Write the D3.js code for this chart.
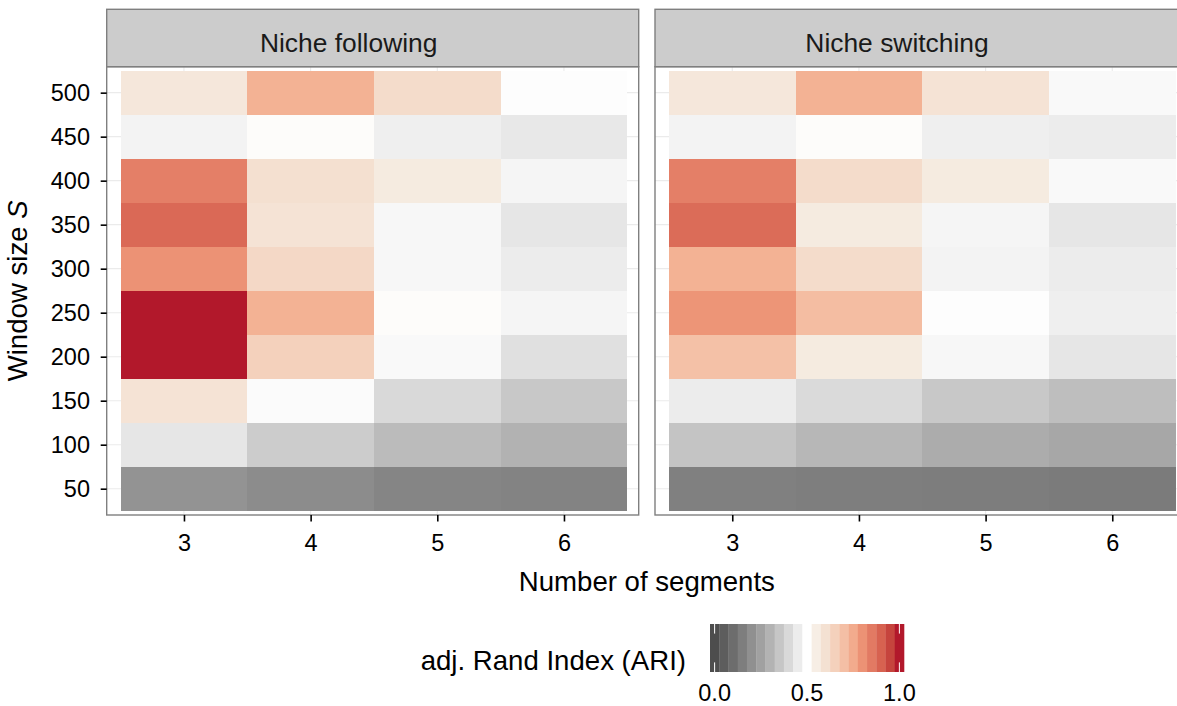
<!DOCTYPE html>
<html>
<head>
<meta charset="utf-8">
<script src="https://cdn.jsdelivr.net/npm/d3@7"></script>
<style>
    body { margin: 0; background: #fff; }
    svg { display: block; font-family: "Liberation Sans", Arial, sans-serif; }
</style>
</head>
<body>
<svg id="drawing_region"></svg>
<script>
// ---- data ----
const segments = [3, 4, 5, 6];
const windowSizes = [50, 100, 150, 200, 250, 300, 350, 400, 450, 500];
const facets = ['Niche following', 'Niche switching'];

// one row per window size (50 ... 500), one column per number of segments (3 ... 6)
const ariFollowing = [
    [0.21, 0.19, 0.17, 0.165],
    [0.435, 0.366, 0.32, 0.295],
    [0.59, 0.49, 0.40, 0.355],
    [1.0, 0.65, 0.485, 0.42],
    [1.0, 0.735, 0.51, 0.475],
    [0.80, 0.63, 0.48, 0.45],
    [0.885, 0.59, 0.48, 0.435],
    [0.84, 0.605, 0.56, 0.475],
    [0.47, 0.51, 0.46, 0.44],
    [0.575, 0.735, 0.62, 0.495]
];
const ariSwitching = [
    [0.155, 0.15, 0.145, 0.14],
    [0.345, 0.31, 0.28, 0.265],
    [0.45, 0.405, 0.355, 0.33],
    [0.695, 0.56, 0.48, 0.435],
    [0.795, 0.705, 0.495, 0.46],
    [0.735, 0.62, 0.47, 0.45],
    [0.88, 0.56, 0.475, 0.435],
    [0.84, 0.62, 0.56, 0.485],
    [0.47, 0.51, 0.46, 0.45],
    [0.575, 0.735, 0.59, 0.485]
];
const legendTicks = [0, 0.5, 1];
const legendBins = 21;

// ---- layout ----
const config = {
    width: 1177,
    height: 706,
    panelWidth: 532,
    panelHeight: 448.3,
    panelLefts: [106.7, 655],
    panelTop: 66.7,
    stripHeight: 57.4,
    border: '#7f7f7f',
    tickFont: 23.5,
    titleFont: 27.6
};

const svg = d3.select('#drawing_region')
    .attr('width', config.width)
    .attr('height', config.height);

const xscale = d3.scaleLinear()
    .domain([2.39, 6.59])
    .range([0, config.panelWidth]);

const yscale = d3.scaleLinear()
    .domain([20.1, 529.5])
    .range([config.panelHeight, 0]);

const color = d3.scaleLinear()
    .domain([0, 0.5, 0.56, 0.62, 0.68, 0.74, 0.80, 0.86, 0.92, 1.0])
    .range(['#4d4d4d', '#ffffff', '#f5ebe0', '#f4dccb', '#f4c6ae', '#f3b092',
            '#ec9275', '#e07560', '#d25848', '#b2182b'])
    .interpolate(d3.interpolateLab)
    .clamp(true);

const tables = [ariFollowing, ariSwitching];

facets.forEach((name, p) => {
    const left = config.panelLefts[p];
    const g = svg.append('g')
        .attr('transform', `translate(${left}, ${config.panelTop})`);

    // grid
    g.selectAll('.vgrid').data(segments).join('line')
        .attr('x1', d => xscale(d)).attr('x2', d => xscale(d))
        .attr('y1', 0).attr('y2', config.panelHeight)
        .attr('stroke', '#ebebeb').attr('stroke-width', 1.1);
    g.selectAll('.hgrid').data(windowSizes).join('line')
        .attr('y1', d => yscale(d)).attr('y2', d => yscale(d))
        .attr('x1', 0).attr('x2', config.panelWidth)
        .attr('stroke', '#ebebeb').attr('stroke-width', 1.1);

    // tiles
    const cells = [];
    windowSizes.forEach((w, i) => {
        segments.forEach((s, j) => {
            cells.push({ s: s, w: w, value: tables[p][i][j] });
        });
    });
    g.selectAll('rect.tile').data(cells).join('rect')
        .attr('class', 'tile')
        .attr('x', d => xscale(d.s - 0.5))
        .attr('y', d => yscale(d.w + 25))
        .attr('width', d => xscale(d.s + 0.5) - xscale(d.s - 0.5))
        .attr('height', d => yscale(d.w - 25) - yscale(d.w + 25))
        .attr('fill', d => color(d.value))
        .attr('shape-rendering', 'crispEdges');

    // panel border
    g.append('rect')
        .attr('width', config.panelWidth)
        .attr('height', config.panelHeight)
        .attr('fill', 'none')
        .attr('stroke', config.border)
        .attr('stroke-width', 1.4);

    // strip
    svg.append('rect')
        .attr('x', left)
        .attr('y', config.panelTop - config.stripHeight)
        .attr('width', config.panelWidth)
        .attr('height', config.stripHeight)
        .attr('fill', '#cccccc')
        .attr('stroke', config.border)
        .attr('stroke-width', 1.4);
    svg.append('text')
        .attr('x', left + config.panelWidth / 2 - 24)
        .attr('y', 52)
        .attr('text-anchor', 'middle')
        .style('font-size', '26.4px')
        .attr('fill', '#1a1a1a')
        .text(name);

    // x axis
    const xaxis = d3.axisBottom(xscale)
        .tickValues(segments)
        .tickSize(6.5)
        .tickPadding(12.8)
        .tickFormat(d3.format('d'));
    const xg = g.append('g')
        .attr('transform', `translate(0, ${config.panelHeight})`)
        .call(xaxis);
    xg.select('.domain').remove();
    xg.selectAll('line').attr('stroke', '#000').attr('stroke-width', 1.6);
    xg.selectAll('text')
        .attr('fill', '#000')
        .style('font-size', config.tickFont + 'px')
        .style('font-family', 'Liberation Sans, Arial, sans-serif');

    // y axis only on first panel
    if (p === 0) {
        const yaxis = d3.axisLeft(yscale)
            .tickValues(windowSizes)
            .tickSize(6)
            .tickPadding(10.7)
            .tickFormat(d3.format('d'));
        const yg = g.append('g').call(yaxis);
        yg.select('.domain').remove();
        yg.selectAll('line').attr('stroke', '#000').attr('stroke-width', 1.6);
        yg.selectAll('text')
            .attr('fill', '#000')
            .style('font-size', config.tickFont + 'px')
            .style('font-family', 'Liberation Sans, Arial, sans-serif');
    }
});

// axis titles
const panelsCenter = (config.panelLefts[0] + config.panelLefts[1] + config.panelWidth) / 2;
svg.append('text')
    .attr('x', panelsCenter)
    .attr('y', 591)
    .attr('text-anchor', 'middle')
    .style('font-size', config.titleFont + 'px')
    .text('Number of segments');

const ylab = svg.append('text')
    .attr('transform', `translate(26.5, ${config.panelTop + config.panelHeight / 2}) rotate(-90)`)
    .attr('text-anchor', 'middle')
    .style('font-size', config.titleFont + 'px');
ylab.append('tspan').text('Window size ');
ylab.append('tspan').style('font-style', 'italic').text('S');

// ---- legend ----
const legend = { x0: 710, x1: 904, top: 624, height: 48 };
const binW = (legend.x1 - legend.x0) / legendBins;
const lscale = d3.scaleLinear()
    .domain([0, 1])
    .range([legend.x0 + binW / 2, legend.x1 - binW / 2]);

const bins = d3.range(legendBins).map(i => i / (legendBins - 1));
svg.selectAll('rect.bin').data(bins).join('rect')
    .attr('class', 'bin')
    .attr('x', d => lscale(d) - binW / 2)
    .attr('y', legend.top)
    .attr('width', binW + 0.3)
    .attr('height', legend.height)
    .attr('fill', d => color(d));

const tickLen = legend.height / 5;
legendTicks.forEach(t => {
    [[legend.top, legend.top + tickLen],
     [legend.top + legend.height - tickLen, legend.top + legend.height]].forEach(([a, b]) => {
        svg.append('line')
            .attr('x1', lscale(t)).attr('x2', lscale(t))
            .attr('y1', a).attr('y2', b)
            .attr('stroke', '#fff').attr('stroke-width', 1);
    });
});

svg.selectAll('text.ltick').data(legendTicks).join('text')
    .attr('class', 'ltick')
    .attr('x', d => lscale(d))
    .attr('y', 701)
    .attr('text-anchor', 'middle')
    .style('font-size', config.tickFont + 'px')
    .text(d => d3.format('.1f')(d));

svg.append('text')
    .attr('x', 686)
    .attr('y', 670)
    .attr('text-anchor', 'end')
    .style('font-size', config.titleFont + 'px')
    .text('adj. Rand Index (ARI)');
</script>
</body>
</html>
